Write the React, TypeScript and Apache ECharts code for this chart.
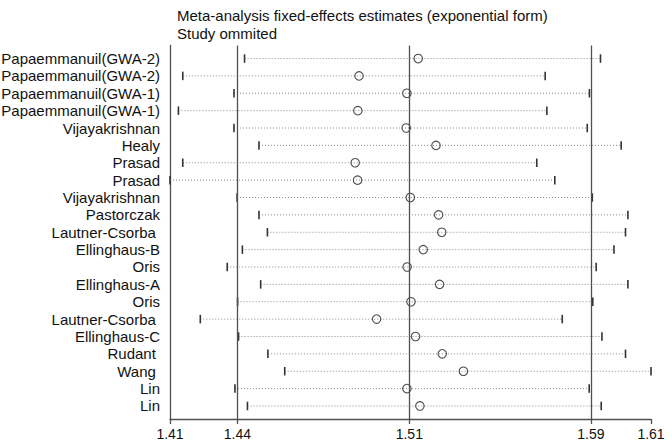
import React, { useEffect, useRef } from "react";
import * as echarts from "echarts";

const titleLines = [
  "Meta-analysis fixed-effects estimates (exponential form)",
  "Study ommited",
];

const studies = [
  "Papaemmanuil(GWA-2)",
  "Papaemmanuil(GWA-2)",
  "Papaemmanuil(GWA-1)",
  "Papaemmanuil(GWA-1)",
  "Vijayakrishnan",
  "Healy",
  "Prasad",
  "Prasad",
  "Vijayakrishnan",
  "Pastorczak",
  "Lautner-Csorba\u00a0",
  "Ellinghaus-B",
  "Oris",
  "Ellinghaus-A",
  "Oris",
  "Lautner-Csorba\u00a0",
  "Ellinghaus-C",
  "Rudant\u00a0",
  "Wang\u00a0",
  "Lin",
  "Lin",
];

const lower = [
  1.441, 1.4153, 1.4366, 1.4135, 1.4366, 1.447, 1.4153, 1.41, 1.4379, 1.447,
  1.4505, 1.4401, 1.4338, 1.4477, 1.4381, 1.4226, 1.4385, 1.4507, 1.4577,
  1.437, 1.4422,
];

const estimate = [
  1.5132, 1.4886, 1.5085, 1.4881, 1.5082, 1.5206, 1.487, 1.488, 1.5099, 1.5217,
  1.523, 1.5153, 1.5086, 1.5221, 1.5102, 1.4959, 1.5121, 1.5232, 1.532, 1.5085,
  1.5139,
];

const upper = [
  1.589, 1.566, 1.5844, 1.5667, 1.5835, 1.5976, 1.5625, 1.57, 1.5856, 1.6004,
  1.5994, 1.5946, 1.5872, 1.6004, 1.5858, 1.5731, 1.5896, 1.5994, 1.61, 1.5843,
  1.5893,
];

// overall estimate with its confidence limits (vertical reference lines)
const refLines = [1.438, 1.5095, 1.585];

const tickValues = [1.41, 1.438, 1.5095, 1.585, 1.61];
const tickLabels = ["1.41", "1.44", "1.51", "1.59", "1.61"];

const FONT = "'Liberation Sans', Arial, sans-serif";

export default function App() {
  const ref = useRef<HTMLDivElement>(null);

  useEffect(() => {
    if (!ref.current) return;
    const chart = echarts.init(ref.current, null, { renderer: "svg" });

    const rows = studies.map((_, i) => i + 1);
    const ciData = rows.map((r, i) => [r, lower[i], estimate[i], upper[i]]);
    const estData = rows.map((r, i) => [estimate[i], r]);

    const option: any = {
      animation: false,
      backgroundColor: "#ffffff",
      title: {
        text: titleLines.join("\n"),
        left: 172,
        top: 1,
        textStyle: {
          fontFamily: FONT,
          fontSize: 15,
          fontWeight: "normal",
          color: "#111",
          lineHeight: 18,
        },
      },
      grid: {
        left: 170,
        right: 21,
        top: 45.5,
        bottom: 27,
        containLabel: false,
        outerBoundsMode: "none",
      },
      xAxis: {
        type: "value",
        min: 1.41,
        max: 1.61,
        axisLine: { show: true, lineStyle: { color: "#505050", width: 1.3 } },
        axisTick: {
          show: true,
          customValues: tickValues,
          length: 5,
          lineStyle: { color: "#505050", width: 1.3 },
        },
        axisLabel: {
          customValues: tickValues,
          formatter: (v: number) => {
            let best = 0;
            for (let i = 0; i < tickValues.length; i++) {
              if (Math.abs(tickValues[i] - v) < Math.abs(tickValues[best] - v)) best = i;
            }
            return tickLabels[best];
          },
          margin: 8,
          fontFamily: FONT,
          fontSize: 14,
          color: "#111",
        },
        splitLine: { show: false },
      },
      yAxis: {
        type: "value",
        inverse: true,
        min: 0.25,
        max: 21.75,
        axisLine: { show: true, lineStyle: { color: "#505050", width: 1.3 } },
        axisTick: { show: false },
        axisLabel: {
          customValues: rows,
          formatter: (v: number) => studies[Math.round(v) - 1] ?? "",
          margin: 10,
          fontFamily: FONT,
          fontSize: 15,
          color: "#111",
        },
        splitLine: { show: false },
      },
      series: [
        {
          type: "custom",
          data: ciData,
          encode: { x: [1, 3], y: 0 },
          renderItem: (params: any, api: any) => {
            const row = api.value(0);
            const lo = api.coord([api.value(1), row]);
            const hi = api.coord([api.value(3), row]);
            const h = 8.5;
            return {
              type: "group",
              children: [
                {
                  type: "line",
                  shape: { x1: lo[0], y1: lo[1], x2: hi[0], y2: hi[1] },
                  style: {
                    stroke: "#888",
                    lineWidth: 1,
                    lineDash: [1, 2],
                  },
                },
                {
                  type: "rect",
                  shape: { x: lo[0] - 0.8, y: lo[1] - h / 2, width: 1.6, height: h },
                  style: { fill: "#333" },
                },
                {
                  type: "rect",
                  shape: { x: hi[0] - 0.8, y: hi[1] - h / 2, width: 1.6, height: h },
                  style: { fill: "#333" },
                },
              ],
            };
          },
          silent: true,
          z: 2,
        },
        {
          type: "scatter",
          data: estData,
          symbol: "circle",
          symbolSize: 8.5,
          itemStyle: {
            color: "rgba(0,0,0,0)",
            borderColor: "#222",
            borderWidth: 1.1,
          },
          silent: true,
          z: 3,
          markLine: {
            silent: true,
            precision: 4,
            symbol: ["none", "none"],
            label: { show: false },
            lineStyle: { color: "#505050", width: 1.3, type: "solid" },
            data: refLines.map((v) => ({ xAxis: v })),
          },
        },
      ],
    };

    chart.setOption(option);
    return () => chart.dispose();
  }, []);

  return (
    <div
      ref={ref}
      style={{ position: "absolute", left: 0, top: 0, width: 672, height: 446 }}
    />
  );
}
